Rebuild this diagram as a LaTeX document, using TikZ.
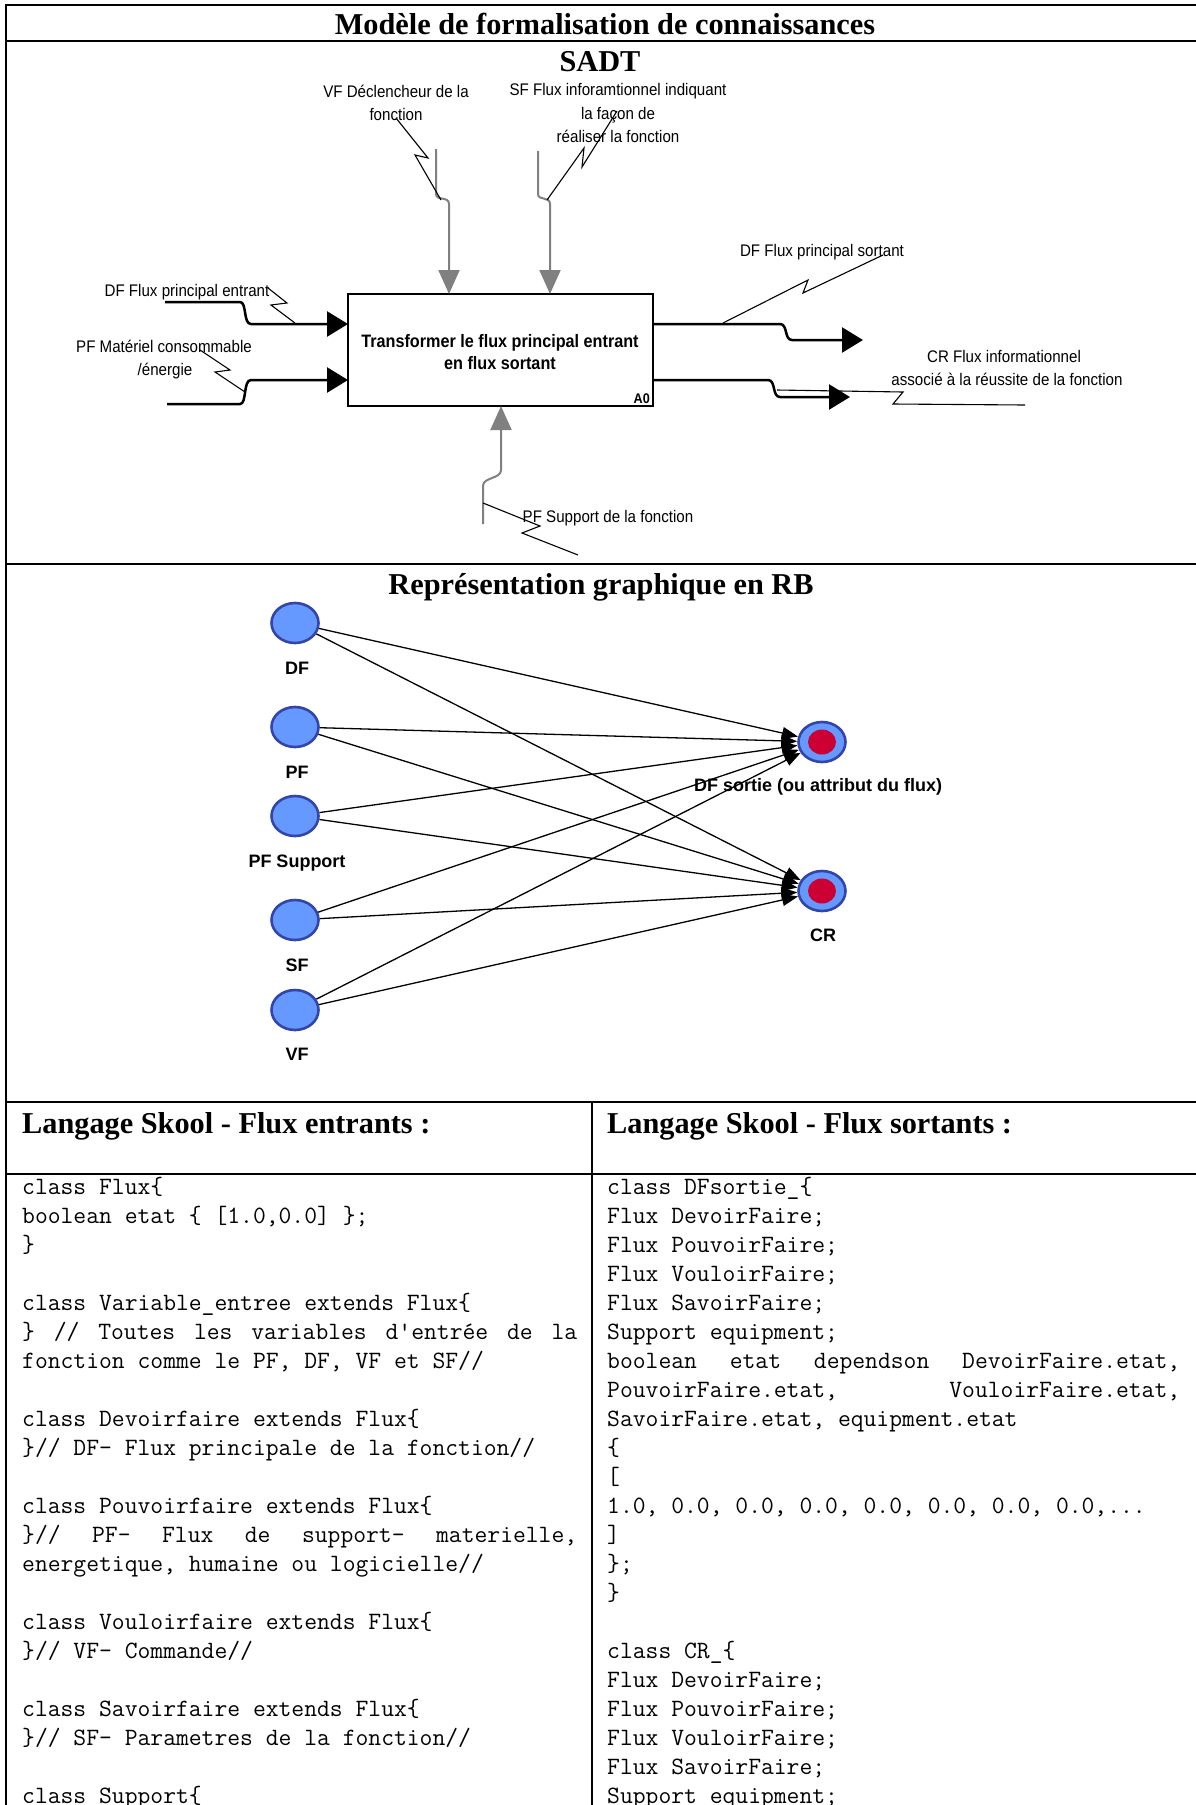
\documentclass[tikz,border=0pt]{standalone}
\usepackage{fontspec}
\setmainfont{Liberation Serif}
\newfontfamily\sadtf{Liberation Sans}
\newfontfamily\sadtn[FakeStretch=0.9]{Liberation Sans}
\usetikzlibrary{arrows.meta,calc,shapes.geometric}
\definecolor{rbfill}{HTML}{6699FF}
\definecolor{rbline}{HTML}{3344AA}
\definecolor{rbred}{HTML}{CC0033}
\definecolor{sgray}{HTML}{808080}
\tikzset{
 tablerule/.style={line width=2pt, line cap=rect},
 titletext/.style={font=\bfseries\fontsize{30.3}{36}\selectfont, inner sep=0, anchor=base},
 hdrtext/.style={font=\bfseries\fontsize{30.3}{36}\selectfont, inner sep=0, anchor=base west},
 slab/.style={font=\sadtn\fontsize{16.8}{20}\selectfont, inner sep=0, anchor=base},
 fnbox/.style={draw, line width=2.5pt, minimum width=305pt, minimum height=112pt, inner sep=0, outer sep=0},
 fntext/.style={font=\sadtn\bfseries\fontsize{18}{22}\selectfont, inner sep=0, anchor=base},
 flowarrow/.style={line width=2.5pt, -{Triangle[length=21pt,width=25pt]}},
 grayarrow/.style={color=sgray, line width=2pt, -{Triangle[length=24pt,width=21pt]}},
 squiggle/.style={line width=1.1pt, line join=miter},
 srcnode/.style={ellipse, draw=rbline, fill=rbfill, line width=2.6pt, minimum width=47pt, minimum height=40pt, inner sep=0},
 redcore/.style={ellipse, fill=rbred, minimum width=28pt, minimum height=25pt, inner sep=0},
 rblab/.style={font=\sadtf\bfseries\fontsize{18}{22}\selectfont, inner sep=0, anchor=base},
 rbedge/.style={line width=1.3pt, -{Triangle[length=16pt,width=12pt]}},
 codecol/.style={inner sep=0, anchor=base west},
}
\begin{document}
\begin{tikzpicture}[x=1pt,y=-1pt]
\useasboundingbox (0,0) rectangle (1195,1805);

% ---------- table ----------
\draw[tablerule] (6,5) -- (1195,5);
\draw[tablerule] (6,41) -- (1195,41);
\draw[tablerule] (6,564) -- (1195,564);
\draw[tablerule] (6,1102) -- (1195,1102);
\draw[tablerule] (6,1174) -- (1195,1174);
\draw[tablerule] (6,5) -- (6,1805);
\draw[tablerule] (592,1102) -- (592,1805);

\node[titletext] (title) at (605,34) {Modèle de formalisation de connaissances};
\node[titletext] (sadt) at (600,71) {SADT};
\node[titletext] (rbtitle) at (601,594) {Représentation graphique en RB};
\node[hdrtext] (hdrL) at (22,1133) {Langage Skool - Flux entrants :};
\node[hdrtext] (hdrR) at (607,1133) {Langage Skool - Flux sortants :};

% ---------- SADT ----------
\node[fnbox] (fn) at (500.5,350) {};
\node[fntext] (fnt1) at (500,347) {Transformer le flux principal entrant};
\node[fntext] (fnt2) at (500,369) {en flux sortant};
\node[font=\sadtn\bfseries\fontsize{14}{15}\selectfont, inner sep=0, anchor=base east] (a0) at (650,403) {A0};

\node[slab] (vft1) at (396,97.5) {VF Déclencheur de la};
\node[slab] (vft2) at (396,120.5) {fonction};
\node[slab] (sft1) at (618,95.5) {SF Flux inforamtionnel indiquant};
\node[slab] (sft2) at (618,119.5) {la façon de};
\node[slab] (sft3) at (618,142.5) {réaliser la fonction};
\node[slab] (dfint) at (187,296) {DF Flux principal entrant};
\node[slab] (pfint1) at (164,352.5) {PF Matériel consommable};
\node[slab] (pfint2) at (165,375.5) {/énergie};
\node[slab] (dfoutt) at (822,256.5) {DF Flux principal sortant};
\node[slab] (crt1) at (1004,362.5) {CR Flux informationnel};
\node[slab] (crt2) at (1007,385.5) {associé à la réussite de la fonction};
\node[slab] (pfst) at (608,522) {PF Support de la fonction};

\coordinate (dfinS) at (165,302);
\coordinate (pfinS) at (167,404);
\coordinate (vfS) at (436,149);
\coordinate (sfS) at (538,151);
\coordinate (pfsS) at (483,524);
\coordinate (dfoutE) at (863,340);
\coordinate (crE) at (850,397);

\draw[flowarrow] (dfinS) -- (240,302) .. controls (247,302) and (243,324) .. (251,324) -- ($(fn.west)+(0,-26)$);
\draw[flowarrow] (pfinS) -- (240,404) .. controls (247,404) and (243,380) .. (251,380) -- ($(fn.west)+(0,30)$);
\draw[flowarrow] ($(fn.east)+(0,-26)$) -- (780,324) .. controls (788,324) and (784,340) .. (792,340) -- (dfoutE);
\draw[flowarrow] ($(fn.east)+(0,30)$) -- (768,380) .. controls (776,380) and (772,397) .. (780,397) -- (crE);

\draw[grayarrow] (vfS) -- (436,194) .. controls (436,201) and (449,196) .. (449,204) -- ($(fn.north)+(-51.5,0)$);
\draw[grayarrow] (sfS) -- (538,194) .. controls (538,201) and (550,196) .. (550,204) -- ($(fn.north)+(49.5,0)$);
\draw[grayarrow] (pfsS) -- (483,486) .. controls (483,477) and (501,479) .. (501,470) -- ($(fn.south)+(0.5,0)$);

\draw[squiggle] (396,118) -- (428,158) -- (415,155) -- (441,200);
\draw[squiggle] (617,111) -- (582,167) -- (584,148) -- (547,200);
\draw[squiggle] (268,288) -- (287,303) -- (271,305) -- (295,323);
\draw[squiggle] (200,350) -- (230,370) -- (215,372) -- (245,392);
\draw[squiggle] (723,323) -- (808,280) -- (803,293) -- (883,255);
\draw[squiggle] (777,390) -- (903,392) -- (893,404) -- (1025,405);
\draw[squiggle] (483,503) -- (540,526) -- (522,533) -- (578,555);

% ---------- RB ----------
\node[srcnode] (df) at (295,623) {};
\node[srcnode] (pf) at (295,727) {};
\node[srcnode] (pfs) at (295,816) {};
\node[srcnode] (sf) at (295,920) {};
\node[srcnode] (vf) at (295,1010) {};
\node[srcnode] (dfs) at (822,742) {};
\node[redcore] (dfscore) at (dfs) {};
\node[srcnode] (cr) at (822,891) {};
\node[redcore] (crcore) at (cr) {};

\node[rblab] (dflab) at ($(df)+(2,51)$) {DF};
\node[rblab] (pflab) at ($(pf)+(2,51)$) {PF};
\node[rblab] (pfslab) at ($(pfs)+(2,51)$) {PF Support};
\node[rblab] (sflab) at ($(sf)+(2,51)$) {SF};
\node[rblab] (vflab) at ($(vf)+(2,50)$) {VF};
\node[rblab] (dfslab) at ($(dfs)+(-4,49)$) {DF sortie (ou attribut du flux)};
\node[rblab] (crlab) at ($(cr)+(1,50)$) {CR};

\foreach \s in {df,pf,pfs,sf,vf}{
  \draw[rbedge] (\s) -- (dfs);
  \draw[rbedge] (\s) -- (cr);
}

% ---------- code ----------
\node[codecol] (codeL) at (22,1194) {\begin{minipage}[t]{555pt}\ttfamily\fontsize{24.9}{29}\selectfont\raggedright\setlength{\parindent}{0pt}%
class Flux\{\par
boolean etat \{ [1.0,0.0] \};\par
\}\par
\mbox{}\par
class Variable\_entree extends Flux\{\par
\makebox[\linewidth][l]{\}\hfill//\hfill Toutes\hfill les\hfill variables\hfill d'entrée\hfill de\hfill la}\par
fonction comme le PF, DF, VF et SF//\par
\mbox{}\par
class Devoirfaire extends Flux\{\par
\}// DF- Flux principale de la fonction//\par
\mbox{}\par
class Pouvoirfaire extends Flux\{\par
\makebox[\linewidth][l]{\}//\hfill PF-\hfill Flux\hfill de\hfill support-\hfill materielle,}\par
energetique, humaine ou logicielle//\par
\mbox{}\par
class Vouloirfaire extends Flux\{\par
\}// VF- Commande//\par
\mbox{}\par
class Savoirfaire extends Flux\{\par
\}// SF- Parametres de la fonction//\par
\mbox{}\par
class Support\{\par
\end{minipage}};

\node[codecol] (codeR) at (607,1194) {\begin{minipage}[t]{573pt}\ttfamily\fontsize{24.9}{29}\selectfont\raggedright\setlength{\parindent}{0pt}%
class DFsortie\_\{\par
Flux DevoirFaire;\par
Flux PouvoirFaire;\par
Flux VouloirFaire;\par
Flux SavoirFaire;\par
Support equipment;\par
\makebox[\linewidth][l]{boolean\hfill etat\hfill dependson\hfill DevoirFaire.etat,}\par
\makebox[\linewidth][l]{PouvoirFaire.etat,\hfill VouloirFaire.etat,}\par
SavoirFaire.etat, equipment.etat\par
\{\par
[\par
1.0, 0.0, 0.0, 0.0, 0.0, 0.0, 0.0, 0.0,...\par
]\par
\};\par
\}\par
\mbox{}\par
class CR\_\{\par
Flux DevoirFaire;\par
Flux PouvoirFaire;\par
Flux VouloirFaire;\par
Flux SavoirFaire;\par
Support equipment;\par
\end{minipage}};
\end{tikzpicture}
\end{document}
